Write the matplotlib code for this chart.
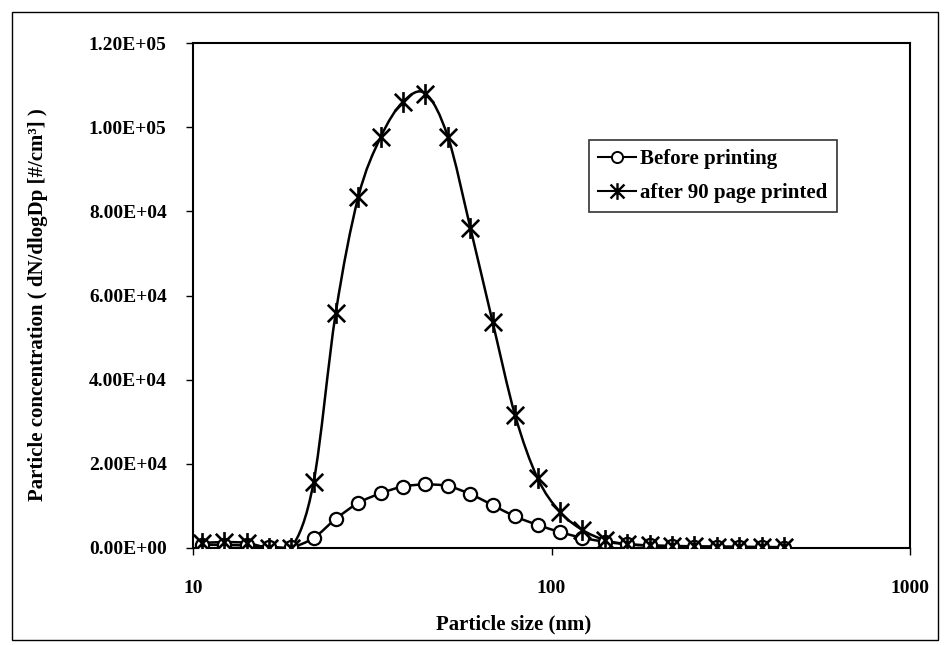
import matplotlib
matplotlib.use('Agg')
import matplotlib.pyplot as plt
import numpy as np
from matplotlib.path import Path
from matplotlib.patches import PathPatch, Rectangle
from matplotlib.lines import Line2D
from matplotlib.ticker import FuncFormatter, NullLocator, FixedLocator

# particle size bins (nm)
sizes = [10.6, 12.2, 14.1, 16.3, 18.8, 21.7, 25.0, 28.9, 33.4, 38.5, 44.5,
         51.4, 59.4, 68.5, 79.1, 91.4, 105.5, 121.9, 140.7, 162.5, 187.7,
         216.7, 250.3, 289.0, 333.8, 385.4, 445.1]

before = [800, 700, 600, 300, 200, 2400, 6900, 10700, 13000, 14600, 15100,
          14700, 12800, 10200, 7500, 5500, 3800, 2400, 1500, 900, 600,
          400, 300, 250, 200, 150, 100]

after90 = [1200, 1400, 1200, 0, 0, 15700, 55800, 83400, 97700, 106000, 108000,
           97700, 76000, 53700, 31600, 16600, 8600, 4300, 1900, 900, 600,
           500, 400, 350, 300, 250, 200]

legend_labels = ['Before printing', 'after 90 page printed']
yticks = [0, 20000, 40000, 60000, 80000, 100000, 120000]

plt.rcParams['font.family'] = ['Liberation Serif', 'DejaVu Serif']
plt.rcParams['font.weight'] = 'bold'


def smooth_path(xs, ys):
    # Excel-style smoothed line: cubic bezier through points, in log-x space
    lx = np.log10(xs)
    y = np.asarray(ys, dtype=float)
    n = len(lx)
    verts = [(xs[0], y[0])]
    codes = [Path.MOVETO]
    for i in range(n - 1):
        i0 = max(i - 1, 0)
        i3 = min(i + 2, n - 1)
        c1x = lx[i] + (lx[i + 1] - lx[i0]) / 6
        c1y = y[i] + (y[i + 1] - y[i0]) / 6
        c2x = lx[i + 1] - (lx[i3] - lx[i]) / 6
        c2y = y[i + 1] - (y[i3] - y[i]) / 6
        verts += [(10 ** c1x, c1y), (10 ** c2x, c2y), (xs[i + 1], y[i + 1])]
        codes += [Path.CURVE4] * 3
    return Path(verts, codes)


star = Path([(-1, -1), (1, 1), (-1, 1), (1, -1), (0, -1.2), (0, 1.2)],
            [Path.MOVETO, Path.LINETO, Path.MOVETO, Path.LINETO, Path.MOVETO, Path.LINETO])

fig = plt.figure(figsize=(9.44, 6.45), dpi=100)
ax = fig.add_axes([0.2045, 0.1504, 0.7595, 0.7829])

for ys in (before, after90):
    ax.add_patch(PathPatch(smooth_path(sizes, ys), fill=False, edgecolor='black', lw=1.8, zorder=2))

ax.plot(sizes, before, ls='none', marker='o', ms=9.5, mfc='white', mec='black', mew=1.6, zorder=3)
ax.plot(sizes, after90, ls='none', marker=star, ms=15, mfc='none', mec='black', mew=1.9, zorder=4)

ax.set_xscale('log')
ax.set_xlim(10, 1000)
ax.set_ylim(0, 120000)
ax.xaxis.set_major_locator(FixedLocator([10, 100, 1000]))
ax.xaxis.set_minor_locator(NullLocator())
ax.xaxis.set_major_formatter(FuncFormatter(lambda v, p: f'{v:g}'))
ax.set_yticks(yticks)
ax.yaxis.set_major_formatter(FuncFormatter(lambda v, p: f'{v:.2E}'))
ax.tick_params(axis='both', direction='out', length=5, width=1, labelsize=14)
ax.tick_params(axis='y', pad=14)
ax.tick_params(axis='x', pad=18)
for s in ax.spines.values():
    s.set_linewidth(1.5)

ax.set_xlabel('Particle size (nm)', fontsize=15, fontweight='bold')
ax.xaxis.set_label_coords(514 / 944, 1 - 624 / 645, transform=fig.transFigure)
ax.xaxis.label.set_va('center')
ax.set_ylabel('Particle concentration ( dN/dlogDp [#/cm³] )', fontsize=15, fontweight='bold')
ax.yaxis.set_label_coords(38 / 944, 1 - 305 / 645, transform=fig.transFigure)
ax.yaxis.label.set_va('center')

handles = [Line2D([], [], color='black', lw=1.5, marker='o', ms=8, mfc='white', mec='black', mew=1.4),
           Line2D([], [], color='black', lw=1.5, marker=star, ms=12, mfc='none', mec='black', mew=1.7)]
leg = ax.legend(handles, legend_labels, loc='upper left', bbox_to_anchor=(589 / 944, 1 - 140 / 645),
                bbox_transform=fig.transFigure, fontsize=15, frameon=True, fancybox=False,
                handlelength=1.8, handletextpad=0.2, borderpad=0.45, labelspacing=0.65, borderaxespad=0)
leg.get_frame().set_edgecolor('black')
leg.get_frame().set_linewidth(1.2)

# outer chart border
fig.patches.append(Rectangle((12 / 944, 5 / 645), 926 / 944, 628 / 645, transform=fig.transFigure,
                             fill=False, edgecolor='black', lw=1))

fig.savefig('out.png', dpi=100)
